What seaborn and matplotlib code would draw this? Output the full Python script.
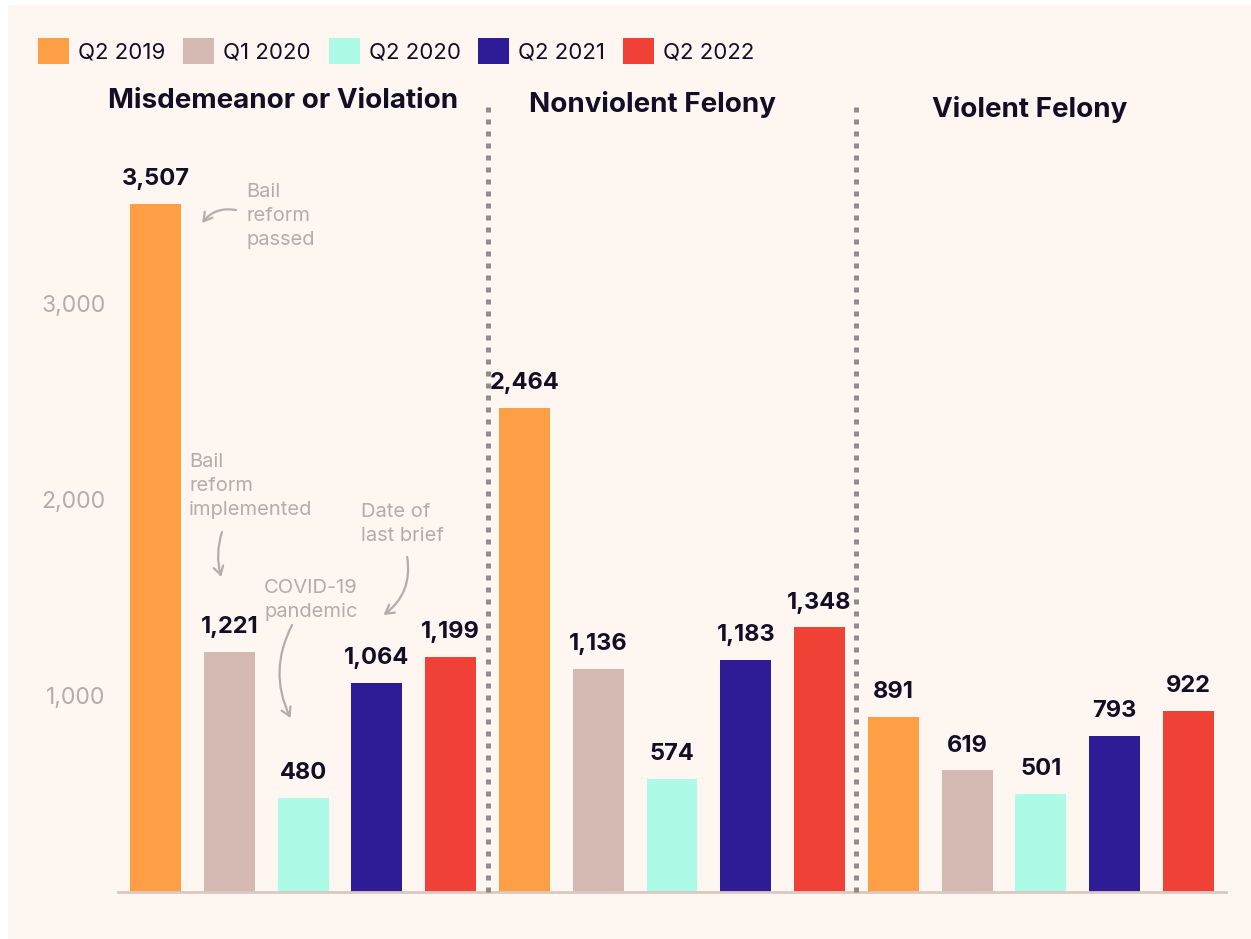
import numpy as np
import pandas as pd
import matplotlib.pyplot as plt
import seaborn as sns
from matplotlib.patches import Patch, Rectangle

sns.set_style("white")
plt.rcParams['font.family'] = ['Inter', 'DejaVu Sans']

# ------------------------------------------------------------
# data
# ------------------------------------------------------------
categories = ['Misdemeanor or Violation', 'Nonviolent Felony', 'Violent Felony']
periods = ['Q2 2019', 'Q1 2020', 'Q2 2020', 'Q2 2021', 'Q2 2022']
misdemeanor = [3507, 1221, 480, 1064, 1199]
nonviolent = [2464, 1136, 574, 1183, 1348]
violent = [891, 619, 501, 793, 922]
colors = ['#fe9e45', '#d3b9b2', '#adfbe6', '#2e1c96', '#ef4136']
yticks = [1000, 2000, 3000]

BG = '#fef6f0'
INK = '#130e26'
GRAY = '#b3aeaa'

rows = []
for cat, vals in zip(categories, [misdemeanor, nonviolent, violent]):
    for per, v in zip(periods, vals):
        rows.append({'category': cat, 'period': per, 'slot': f'{cat}|{per}', 'value': v})
df = pd.DataFrame(rows)
slots = list(df['slot'])

# ------------------------------------------------------------
# figure
# ------------------------------------------------------------
fig = plt.figure(figsize=(12.51, 9.39), dpi=100)
fig.patch.set_facecolor('white')
fig.add_artist(Rectangle((8 / 1251, 0), 1 - 8 / 1251, 934 / 939,
                         transform=fig.transFigure, facecolor=BG,
                         edgecolor='none', zorder=-5))

ax = fig.add_axes([118 / 1251, 47 / 939, (1226 - 118) / 1251, (892 - 150) / 939])
ax.patch.set_alpha(0)

sns.barplot(data=df, x='slot', y='value', hue='period', order=slots,
            hue_order=periods, palette=colors, dodge=False, width=0.69,
            saturation=1, linewidth=0, legend=False, ax=ax)

for c in ax.containers:
    ax.bar_label(c, fmt='{:,.0f}', padding=10, fontsize=17,
                 fontweight='bold', color=INK)

ax.set_xlim(-0.51, 14.51)
ax.set_ylim(0, 3780)
ax.set_xlabel('')
ax.set_ylabel('')
ax.set_xticks([])
ax.set_yticks(yticks)
ax.set_yticklabels([f'{t:,}' for t in yticks], fontsize=16.5, color=GRAY)
ax.tick_params(axis='y', length=0, pad=9)
for s in ['top', 'right', 'left']:
    ax.spines[s].set_visible(False)
ax.spines['bottom'].set_color('#dac8c2')
ax.spines['bottom'].set_linewidth(2)

# dotted separators between groups
for xs in [4.5, 9.5]:
    ax.axvline(xs, ymin=0, ymax=(892 - 106) / (892 - 150), color='#8e8c8b',
               lw=3.6, linestyle=(0, (1, 1.4)), clip_on=False, zorder=3)

# group titles
title_x = [1.73, 6.74, 11.85]
title_y = [1.066, 1.061, 1.054]
tr = ax.get_xaxis_transform()
for cat, tx, ty in zip(categories, title_x, title_y):
    ax.text(tx, ty, cat, transform=tr, ha='center', va='center',
            fontsize=20, fontweight='bold', color=INK)

# annotations
notes = [
    ('Bail\nreform\npassed', (1.23, 3444), (1.09, 3474), (0.63, 3408), 0.3),
    ('Bail\nreform\nimplemented', (0.455, 2068), (0.90, 1834), (0.89, 1605), 0.15),
    ('Date of\nlast brief', (2.79, 1875), (3.41, 1707), (3.09, 1411), -0.3),
    ('COVID-19\npandemic', (1.47, 1488), (1.85, 1360), (1.83, 886), 0.25),
]
for txt, tpos, a0, a1, rad in notes:
    ax.text(tpos[0], tpos[1], txt, ha='left', va='center', fontsize=14.5,
            color=GRAY, linespacing=1.45)
    ax.annotate('', xy=a1, xytext=a0,
                arrowprops=dict(arrowstyle='->,head_length=0.6,head_width=0.35',
                                connectionstyle=f'arc3,rad={rad}',
                                color=GRAY, lw=1.6, shrinkA=0, shrinkB=0))

# legend
handles = [Patch(facecolor=c, edgecolor='none', label=p) for c, p in zip(colors, periods)]
fig.legend(handles=handles, loc='center left', bbox_to_anchor=(38 / 1251, 1 - 51 / 939),
           ncol=5, frameon=False, fontsize=16, handlelength=1.4, handleheight=1.4,
           handletextpad=0.4, columnspacing=0.8, borderpad=0, borderaxespad=0,
           labelcolor=INK)

fig.savefig('out.png', dpi=100, facecolor=fig.get_facecolor())
